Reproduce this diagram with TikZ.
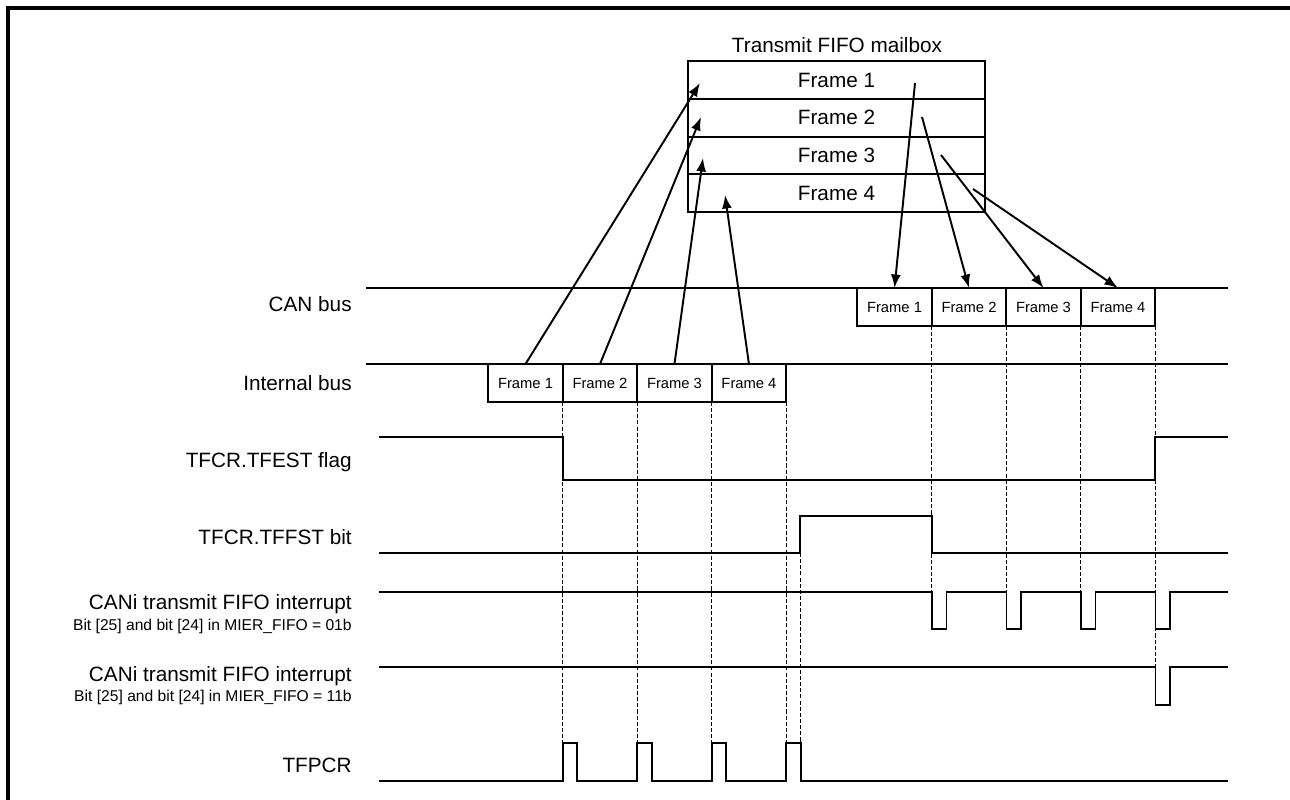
\documentclass[tikz,border=0pt]{standalone}
\usepackage{fontspec}
\setmainfont{Liberation Sans}
\usetikzlibrary{arrows.meta,positioning}
\newcommand{\lblfont}{\fontsize{11.8}{14}\selectfont}
\newcommand{\framefont}{\fontsize{8.4}{10}\selectfont}
\newcommand{\notefont}{\fontsize{8.9}{10.5}\selectfont}
\tikzset{
  >={Latex[length=2.7mm,width=2mm]},
  % signale
  sig/.style={line width=1.1pt},
  guide/.style={line width=0.8pt,dash pattern=on 2.3pt off 1.2pt},
  xfer/.style={->,line width=1.1pt},
  % kästen
  fbox/.style={draw,line width=1.1pt,minimum width=1.49cm,minimum height=0.76cm,
               inner sep=0pt,outer sep=0pt,font=\framefont},
  mrow/.style={draw,line width=1.1pt,minimum width=5.94cm,minimum height=0.755cm,
               inner sep=0pt,outer sep=0pt,font=\lblfont},
  lbl/.style={anchor=base east,inner sep=0pt,font=\lblfont},
  note/.style={anchor=base east,inner sep=0pt,font=\notefont},
}
\begin{document}
\begin{tikzpicture}[x=0.02cm,y=-0.02cm]
  \useasboundingbox (0,0) rectangle (1290,800);
  \draw[line width=1.8pt] (8,800) -- (8,8) -- (1290,8);
  % mailbox
  \node[anchor=base,inner sep=0pt,font=\lblfont] (mbtitle) at (837,53) {Transmit FIFO mailbox};
  \node[mrow] (mb1) at (836.5,80) {Frame 1};
  \node[mrow,below=0pt of mb1] (mb2) {Frame 2};
  \node[mrow,below=0pt of mb2] (mb3) {Frame 3};
  \node[mrow,below=0pt of mb3] (mb4) {Frame 4};
  % labels
  \node[lbl] (lcan) at (352,312) {CAN bus};
  \node[lbl] (lint) at (352,390) {Internal bus};
  \node[lbl] (ltfest) at (352,467) {TFCR.TFEST flag};
  \node[lbl] (ltffst) at (352,544) {TFCR.TFFST bit};
  \node[lbl] (lirqa) at (352,609) {CANi transmit FIFO interrupt};
  \node[note] (lirqan) at (352,630) {Bit [25] and bit [24] in MIER\_FIFO = 01b};
  \node[lbl] (lirqb) at (352,681) {CANi transmit FIFO interrupt};
  \node[note] (lirqbn) at (352,701) {Bit [25] and bit [24] in MIER\_FIFO = 11b};
  \node[lbl] (ltfpcr) at (352,772) {TFPCR};
  % busse
  \draw[sig] (366,288) -- (1228,288);
  \draw[sig] (366,364) -- (1228,364);
  \node[fbox] (cb1) at (894.5,307) {Frame 1};
  \node[fbox,right=0pt of cb1] (cb2) {Frame 2};
  \node[fbox,right=0pt of cb2] (cb3) {Frame 3};
  \node[fbox,right=0pt of cb3] (cb4) {Frame 4};
  \node[fbox] (ib1) at (525.5,383) {Frame 1};
  \node[fbox,right=0pt of ib1] (ib2) {Frame 2};
  \node[fbox,right=0pt of ib2] (ib3) {Frame 3};
  \node[fbox,right=0pt of ib3] (ib4) {Frame 4};
  % pfeile
  \coordinate (mt1) at (700,83);
  \coordinate (mt2) at (701,117);
  \coordinate (mt3) at (703,158);
  \coordinate (mt4) at (725,195);
  \coordinate (ms1) at (915,83);
  \coordinate (ms2) at (922,117);
  \coordinate (ms3) at (941,155);
  \coordinate (ms4) at (973,189);
  \foreach \i in {1,...,4}{
    \draw[xfer] (ib\i.north) -- (mt\i);
    \draw[xfer] (ms\i) -- (cb\i.north);
  }
  % wellenformen
  \draw[sig] (379,437) -| (563,480) -| (1155,437) -- (1228,437);
  \draw[sig] (379,553) -| (800,516) -| (932,553) -- (1228,553);
  \draw[sig] (379,592) \foreach \p in {932,1006.5,1081,1155.5}{
      -- (\p,592) -- (\p,629) -- (\p+14.5,629) -- (\p+14.5,592)} -- (1228,592);
  \draw[sig] (379,667) -| (1155.5,705) -| (1170,667) -- (1228,667);
  \draw[sig] (379,781) \foreach \p in {562.75,637.25,711.75,786.25}{
      -- (\p,781) -- (\p,743) -- (\p+14.5,743) -- (\p+14.5,781)} -- (1228,781);
  % hilfslinien
  \coordinate (pcr) at (0,743);
  \coordinate (irqa) at (0,592);
  \coordinate (irqb) at (0,667);
  \foreach \i in {1,...,4}
    \draw[guide] (ib\i.south east) -- (ib\i.south east |- pcr);
  \draw[guide] (800.75,553) -- (800.75,743);
  \foreach \i in {1,...,3}
    \draw[guide] (cb\i.south east) -- (cb\i.south east |- irqa);
  \draw[guide] (cb4.south east) -- (cb4.south east |- irqb);
\end{tikzpicture}
\end{document}
